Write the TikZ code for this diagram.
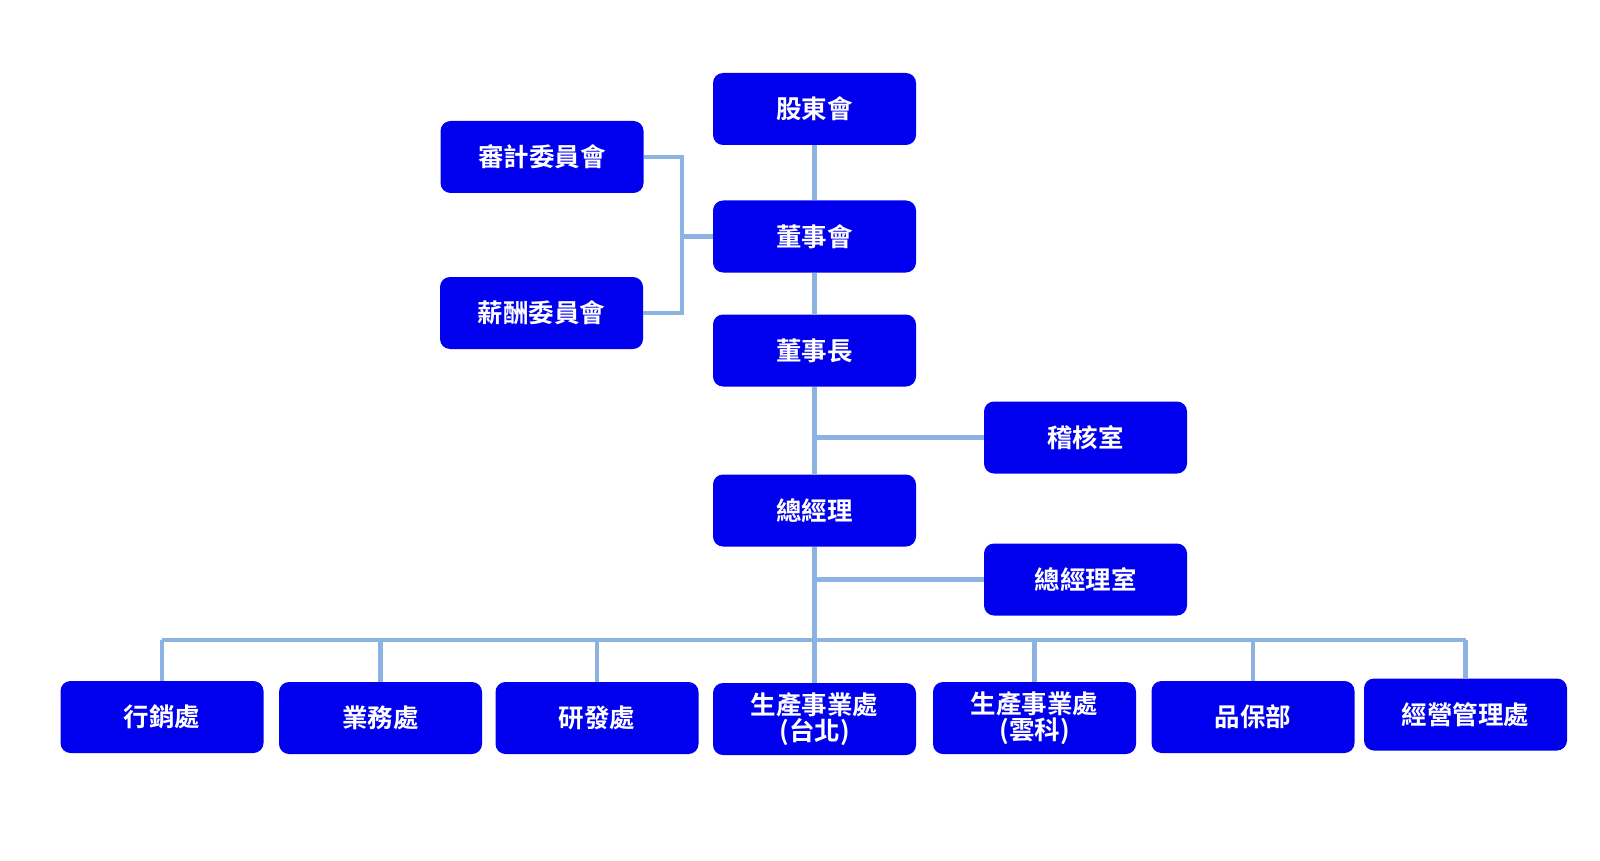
\documentclass[tikz,border=0pt]{standalone}
\usepackage{fontspec}
\newfontfamily\cjk{Noto Sans CJK TC}[BoldFont={Noto Sans CJK TC Bold}]
\definecolor{boxblue}{RGB}{0,0,238}
\definecolor{linkblue}{RGB}{141,179,226}
\tikzset{
  unit/.style={draw=none, fill=boxblue, rounded corners=10pt, minimum width=203pt, minimum height=72pt,
    inner sep=0pt, text=white, align=center, font=\cjk\bfseries\fontsize{25.5}{23.5}\selectfont},
  link/.style={draw=linkblue, line width=4.2pt}
}
\begin{document}
\begin{tikzpicture}[x=1pt,y=-1pt]
\useasboundingbox (0,0) rectangle (1600,861);
\fill[white] (0,0) rectangle (1600,861);
% top chain
\node[unit] (gudong) at (814.5,109) {\raisebox{-2pt}{股東會}};
\node[unit] (shenji) at (542,157) {\raisebox{-2pt}{審計委員會}};
\node[unit] (dongshihui) at (814.5,236.5) {\raisebox{-2pt}{董事會}};
\node[unit] (xinchou) at (541.5,313) {\raisebox{-2pt}{薪酬委員會}};
\node[unit] (dongshizhang) at (814.5,350.5) {\raisebox{-2pt}{董事長}};
\node[unit] (jihe) at (1085.5,437.5) {\raisebox{-2pt}{稽核室}};
\node[unit] (zongjingli) at (814.5,510.5) {\raisebox{-2pt}{總經理}};
\node[unit] (zjlshi) at (1085.5,579.5) {\raisebox{-2pt}{總經理室}};
% bottom row
\node[unit] (hangxiao) at (162,717) {\raisebox{-2pt}{行銷處}};
\node[unit] (yewu) at (380.5,718) {\raisebox{-2pt}{業務處}};
\node[unit] (yanfa) at (597,718) {\raisebox{-2pt}{研發處}};
\node[unit] (taibei) at (814.5,719) {生產事業處\\(台北)};
\node[unit] (yunke) at (1034.5,718) {生產事業處\\(雲科)};
\node[unit] (pinbao) at (1253,717) {\raisebox{-2pt}{品保部}};
\node[unit] (jingying) at (1465.5,714.5) {\raisebox{-2pt}{經營管理處}};
% coordinates
\coordinate (brk) at (682,236.5);
\coordinate (bus) at (814.5,640);
% connectors
\draw[link] (gudong.south) -- (dongshihui.north);
\draw[link] (dongshihui.south) -- (dongshizhang.north);
\draw[link] (shenji.east) -| (brk) |- (xinchou.east);
\draw[link] (brk) -- (dongshihui.west);
\draw[link] (dongshizhang.south) -- (zongjingli.north);
\draw[link] (jihe.west) -- (jihe.west -| dongshizhang.south);
\draw[link] (zongjingli.south) -- (taibei.north);
\draw[link] (zjlshi.west) -- (zjlshi.west -| zongjingli.south);
\draw[link] (hangxiao.north |- bus) -- (jingying.north |- bus);
\draw[link] (hangxiao.north) -- (hangxiao.north |- bus);
\draw[link] (yewu.north) -- (yewu.north |- bus);
\draw[link] (yanfa.north) -- (yanfa.north |- bus);
\draw[link] (yunke.north) -- (yunke.north |- bus);
\draw[link] (pinbao.north) -- (pinbao.north |- bus);
\draw[link] (jingying.north) -- (jingying.north |- bus);
\end{tikzpicture}
\end{document}
